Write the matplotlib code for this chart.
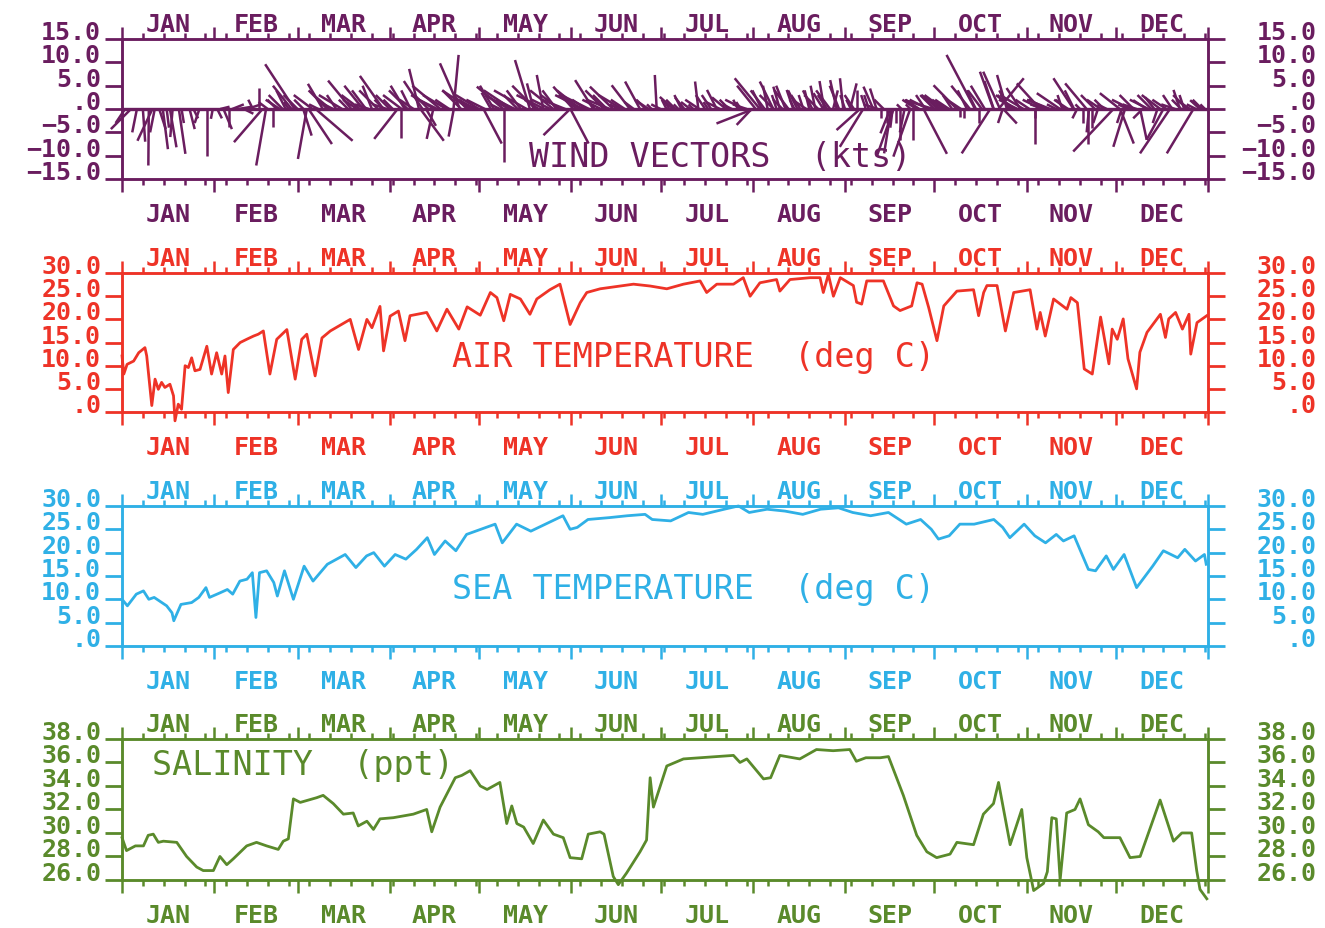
import matplotlib
matplotlib.use("Agg")
import matplotlib.pyplot as plt
from matplotlib.collections import LineCollection
import numpy as np

plt.rcParams['font.family'] = ['DejaVu Sans Mono', 'DejaVu Sans']

months = ["JAN", "FEB", "MAR", "APR", "MAY", "JUN", "JUL", "AUG", "SEP", "OCT", "NOV", "DEC"]
month_starts = [0, 31, 59, 90, 120, 151, 181, 212, 243, 273, 304, 334, 365]

# wind sticks: day of year, u (kts, east), v (kts, north)
wind_day = [3.0, 9.0, 10.2, 12.5, 13.7, 16.1, 19.1, 22.7, 28.7, 30.5, 34.1, 36.0, 37.0, 39.0, 41.0,
            46.0, 47.2, 48.4, 50.8, 52.0, 54.0, 56.0, 58.0, 60.9, 62.1, 62.7, 65.1, 67.5, 70.0,
            72.0, 77.1, 80.0, 82.0, 84.0, 87.8, 90.0, 92.6, 93.8, 96.0, 98.0, 99.8, 100.3, 102.2,
            104.6, 105.0,
            111.4, 111.5, 113.6, 116.0, 119.0, 121.5, 124.0, 128.2, 128.3, 133.0, 137.1, 138.3,
            141.6, 145.0, 147.0, 150.6, 150.7, 151.7, 155.0, 158.4, 162.0, 165.1, 168.0, 170.7,
            174.1, 177.0, 179.7, 183.0, 185.3, 188.0, 191.0, 193.7, 196.0, 199.9, 203.0, 205.0,
            208.0, 211.6, 212.2, 214.4, 216.0, 218.9, 221.1, 223.0, 225.6, 228.0, 231.0, 235.7,
            238.0, 240.2, 242.4, 244.7, 246.0, 248.0, 249.1, 250.0, 252.5, 253.6,
            256.0, 258.2, 258.5, 259.3, 261.5, 262.0, 264.9, 266.0, 268.0, 269.4, 272.7, 275.0,
            278.0, 280.6, 281.7, 284.0, 286.7, 289.0, 291.8, 292.9, 294.6, 295.1, 296.2, 297.4,
            300.0, 302.0, 306.9, 308.6, 311.0, 315.3, 317.0, 319.8, 322.0, 324.2, 324.8, 327.0,
            330.0, 333.2, 335.4, 335.5, 337.1, 340.0, 342.2, 344.4, 347.0, 350.0, 352.2, 355.6,
            358.0, 360.1, 362.3, 363.0]
wind_u = [-4.3, -0.1, -3.2, 1.4, 1.1, 1.4, 1.4, 1.1, 0.0, -0.4, 1.8, 0.0, 2.5, 3.0, 2.0,
          0.0, -6.1, -2.1, 0.0, -2.0, -3.0, -1.0, -6.3, 1.8, -1.9, 5.0, 7.9, -3.2, -3.0,
          -2.0, -5.0, -4.0, -3.0, -2.0, -5.0, -3.0, -5.0, 0.0, -4.0, -3.0, -2.1, 5.0, 2.1,
          -1.4, -5.0,
          1.1, -1.1, -4.3, -3.0, -4.0, 3.9, -2.0, -5.7, 0.0, -3.0, -3.2, -1.4,
          -1.4, -5.0, -4.0, -5.7, 3.9, -4.3, -6.0, -3.9, -4.0, -5.0, -5.0, -3.9,
          -3.2, -3.0, -0.4, -1.0, -2.9, -1.5, -2.0, -0.7, -2.0, -2.1, -3.0, -2.0,
          -1.0, -3.2, -7.9, -5.4, -3.0, -2.9, -1.4, -2.0, -1.4, -2.0, -1.0, -2.1,
          -3.0, -1.4, -0.7, 1.4, -2.0, -5.0, -5.0, -1.0, -2.1, -1.4,
          -2.0, -2.1, -1.5, -3.6, 0.0, -1.0, -3.6, 0.0, -3.0, 5.0, -6.1, -4.0,
          -3.0, -5.0, 0.0, -2.0, -6.1, -3.0, -6.1, -2.9, 5.4, -3.6, 2.9, -2.1,
          -4.0, -3.0, 0.0, -5.0, -4.0, -5.0, -2.0, -4.3, -1.0, -4.6, 0.0, -3.0,
          -2.0, -8.6, -4.3, 2.9, -2.5, -3.0, 1.4, -2.9, -2.0, -3.6, -6.4, -1.4,
          -3.0, -5.7, -2.1, -2.0]
wind_v = [-4.3, -12.1, -6.8, -4.3, -8.6, -8.2, -9.6, -4.3, -10.0, -2.1, -4.3, -3.8, 1.0, 0.5, -1.0,
          4.6, -7.1, -12.1, -3.9, 2.0, 3.0, 1.5, 9.6, -5.7, -10.7, -7.5, -6.8, 5.4, 2.5,
          3.0, 6.1, 3.0, 4.0, 5.0, 7.1, 3.0, -6.4, -6.1, 4.0, 2.0, 8.6, -6.8, -3.6,
          -6.4, 3.0,
          11.6, -5.9, 9.8, 3.0, 2.0, -7.4, 3.5, 4.8, -11.3, 3.0, 10.5, 5.5,
          7.3, 4.0, 3.0, -5.6, -7.4, 4.8, 3.0, 6.2, 4.0, 4.8, 3.0, 5.1,
          5.9, 2.0, 7.3, 2.0, 2.6, 3.0, 1.5, 5.9, 3.0, 4.1, 2.5, 1.0,
          1.5, -3.4, -3.1, 6.6, 4.0, 5.9, 4.8, 5.0, 4.1, 3.0, 4.0, 3.4,
          4.0, 6.2, 6.6, 5.5, 3.0, -4.5, -8.1, 3.0, 4.8, 4.4,
          2.0, -5.2, -9.5, -10.2, -6.6, 1.0, -10.2, -6.6, 2.0, -9.6, 1.9, 3.0,
          2.0, 5.1, -1.6, 4.0, 11.6, 4.0, -9.5, 8.0, 6.6, 8.0, -3.1, 7.3,
          3.0, 4.5, -7.4, 5.5, 2.0, 3.4, 2.0, 6.6, 1.0, 5.5, -7.4, 3.0,
          2.0, -9.1, 3.4, -7.4, -8.1, 3.0, -6.6, 1.9, 2.5, -6.6, -9.5, 4.1,
          3.0, -9.5, 1.9, 2.0]

# the many short sticks that crowd the zero line
calm_day = [1, 5, 7, 11, 15, 17, 20, 24, 26, 32,
            33, 42, 44, 49, 53, 55, 57, 59, 61, 64, 66, 69, 71, 74, 76, 79, 81, 83, 86, 88, 89,
            91, 94, 95, 97, 101, 103, 106, 107, 109, 110, 114, 117, 118, 120,
            122, 125, 127, 130, 131, 132, 134, 136, 139, 140, 142, 144, 146, 149,
            153, 154, 156, 157, 159, 161, 163, 164, 167, 169, 172, 176, 178, 181,
            184, 186, 187, 189, 192, 194, 197, 198, 201, 204, 207, 209, 210,
            213, 215, 217, 219, 220, 222, 224, 226, 227, 229, 230, 232, 233, 234, 236, 237, 239,
            241, 243,
            245, 247, 251, 254, 255, 257, 259, 260, 263, 265, 267, 270, 271, 273,
            274, 276, 277, 279, 282, 283, 285, 287, 288, 290, 293, 296, 298, 299, 301, 303,
            305, 307, 309, 310, 312, 314, 316, 318, 320, 321, 323, 325, 326, 328, 329, 331,
            336, 338, 339, 341, 343, 345, 346, 348, 349, 351, 353, 354, 356, 357, 359, 361, 364]
calm_u = [-2, -1, 0.5, -1, 0.5, -0.5, 0.5, 1, -1, 1,
          2, 3, -1, -2, -3, -2, -4, -3, -2, -4, -2, -4, -3, -5, -2, -3, -4, -3, -4, -2, -3,
          -2, -4, -3, -2, -4, -3, -4, -6, -5, -3, -4, -6, -3, -5,
          -4, -3, -2, -5, -6, -4, -3, -7, -5, -3, -6, -4, -3, -5,
          -4, -5, -3, -6, -2, -4, -3, -5, -2, -3, -2, -2, -1, -2,
          -1, -2, -1, -2, -1, -3, -1, -2, -3, -2, -1, -4, -3,
          -4, -2, -1, -3, -1, -2, -3, -1, -2, -1, -3, -2, -1, -3, -1, -2, 1,
          -2, -1,
          -1, 0, -1, -3, 0, 0, -0.5, 0, -1, -1, -3, -2, -4, -3,
          -2, -4, -3, -2, -3, 0, -4, -2, 0, -3, -2, -1, -2, -3, -4, -5,
          -3, 0, -4, -3, -5, -2, -1, -3, -2, -1, 0, -0.5, 0, -1, -3, -2,
          -1, -2, -4, -3, -2, -4, -3, -1, -4, -3, -2, -3, -2, -1, -3, -2, -1]
calm_v = [-3, -5, -7, -5, -4, -6, -3, -2, -3, -2,
          0.5, 1, 2, 1.5, 2, 4, 5, 3, 2, 3, 1, 4, 1.5, 3, 2, 2, 5, 1, 4, 2, 1,
          2, 3, 5, 4, 6, 3, 2, 5, 3, 2, 4, 4, 2, 3,
          2, 5, 1, 3, 4, 2, 4, 4, 5, 2, 3, 2, 4, 2,
          3, 4, 2, 3, 2, 2, 3, 2, 1, 2, 1.5, 2, 1, 1,
          1.5, 2, 1, 2.5, 1, 2, 1.5, 3, 1.5, 2, 2, 2, 1,
          5, 4, 5, 3, 3, 2, 4, 2, 4, 3, 2, 4, 5, 3, 6, 3, 4,
          5, 3,
          2, 4, 3, 1, -2, -3, -4, -3, -5, 1, 2, 3, 2, 3,
          2, 3, 2, 3, 2, -2, 5, 4, -3, 5, 6, -3, 4, 3, 2, 3,
          2, -2, 2, 1, 2, 1, 3, 2, 4, -2, -3, -5, -4, -3, 2, 1,
          -3, 1, 2, 1, -2, 2, 3, -3, 3, 2, 3, 1, 2, 3, 2, 1, 1]

air_day = [0, 0.6, 1.7, 3.9, 5.6, 7.7, 8.3, 10.0, 11.1, 12.2, 13.3, 14.4, 16.1, 17.3, 17.8, 18.9,
           20.0, 21.2, 22.3, 23.4, 24.5, 26.2, 28.5, 30.1, 31.8, 33.5, 34.6, 35.7, 37.4, 39.7,
           41.9, 44.2, 45.8, 47.5, 49.7, 52.0, 55.4, 58.2, 60.4, 62.1, 64.9, 67.2, 70.0, 76.7,
           79.5, 82.3, 84.0, 86.7, 87.9, 90.1, 92.9,
           95.1, 96.8, 102.4, 105.8, 109.2, 113.2, 116.0, 120.4, 123.8, 126.0, 128.3, 130.5,
           133.9, 137.1, 139.4, 143.8, 147.2, 150.6, 154.0, 156.2, 160.7, 171.9, 177.5, 183.1,
           188.7, 194.3, 196.5, 199.9, 205.5, 208.8, 211.1, 214.4, 220.0, 221.1, 224.5, 231.3,
           234.6, 235.7, 237.4, 239.1, 241.4,
           245.8, 246.9, 248.6, 250.3, 255.9, 259.3, 261.5, 265.4, 267.2, 268.9, 271.1, 273.9,
           276.2, 280.6, 286.2, 287.9, 289.6, 290.7, 294.1, 296.9, 299.7, 305.2, 307.5, 308.6,
           310.3, 313.1, 317.6, 318.9, 321.1, 323.4, 326.1, 328.9, 331.7, 332.8, 334.5, 336.5,
           338.1, 341.0, 342.1, 344.5, 349.0, 350.7, 351.8, 354.1, 356.4, 358.6, 359.2, 361.3,
           364.6]
air_temp = [12.1, 8.2, 10.3, 11.0, 12.8, 13.9, 12.1, 1.4, 7.1, 4.9, 6.4, 5.3, 6.0, 3.5, -1.9, 1.7,
            0.6, 10.0, 9.6, 11.7, 8.9, 9.2, 14.2, 8.2, 12.8, 8.2, 12.1, 4.2, 13.5, 15.0,
            15.7, 16.4, 16.8, 17.5, 8.2, 15.7, 17.8, 7.1, 15.7, 16.8, 7.8, 16.0, 17.5, 20.0,
            13.5, 20.0, 18.2, 22.8, 13.2, 20.7, 21.8,
            15.4, 20.8, 21.5, 17.5, 22.2, 17.9, 22.7, 20.9, 25.8, 24.7, 19.7, 25.4,
            24.4, 21.1, 24.4, 26.4, 27.6, 18.9, 23.6, 25.8, 26.6, 27.6, 27.2, 26.6,
            27.6, 28.3, 25.8, 27.6, 27.6, 29.0, 25.0, 27.9, 28.6, 26.1, 28.6, 29.0,
            29.0, 25.8, 29.7, 25.0, 29.0,
            27.3, 23.7, 23.3, 28.3, 28.3, 22.9, 21.9, 22.9, 27.9, 27.6, 22.6, 15.4,
            22.9, 26.1, 26.4, 20.8, 25.8, 27.3, 27.3, 17.5, 25.8, 26.4, 17.9, 21.5,
            16.4, 24.4, 22.2, 24.7, 23.6, 9.3, 8.2, 20.5, 10.4, 17.9, 15.7, 20.1,
            11.5, 5.0, 12.9, 17.2, 21.1, 16.1, 20.1, 21.5, 17.9, 21.1, 12.5, 19.3,
            20.8]

sea_day = [0, 1.8, 4.8, 7.2, 9.0, 10.8, 15.0, 16.8, 17.4, 19.8, 23.4, 25.8, 28.2, 29.4, 33.0,
           35.4, 37.2, 39.6, 42.0, 43.8, 45.0, 46.2, 48.6, 51.0, 52.2, 54.6, 57.6, 61.2, 64.2,
           69.0, 75.0, 78.6, 82.2, 84.6, 88.2, 91.8, 95.4, 99.0, 102.6, 105.0, 108.6, 112.2,
           115.8, 120.6, 125.4, 127.8, 132.6, 137.4, 144.6, 148.2, 150.6, 153.0, 156.6, 163.8,
           169.8, 175.8, 178.2,
           184.4, 190.4, 195.2, 202.4, 207.2, 210.8, 216.8, 222.8, 228.8, 234.8, 240.8, 245.6,
           251.6, 257.6, 263.6, 268.4, 272.0, 274.4, 278.0, 281.6, 286.4, 293.0, 296.0, 298.4,
           303.2, 306.8, 310.4, 314.0, 316.4, 320.0, 324.8, 327.2, 330.8, 333.2, 336.8, 341.0,
           346.4, 350.0, 354.8, 357.2, 360.8, 363.8, 364.4]
sea_temp = [10.0, 8.6, 11.1, 11.8, 10.0, 10.4, 8.6, 7.1, 5.4, 8.9, 9.3, 10.4, 12.5, 10.4, 11.4,
            12.1, 11.1, 13.9, 14.3, 15.7, 6.1, 15.7, 16.1, 13.6, 10.7, 16.1, 10.0, 17.1, 13.9,
            17.5, 19.6, 16.8, 19.3, 20.0, 17.1, 19.6, 18.6, 20.7, 23.2, 19.6, 22.5, 20.4,
            23.9, 25.0, 26.1, 22.1, 26.1, 24.6, 26.8, 27.9, 25.0, 25.4, 27.1, 27.5,
            27.9, 28.2, 27.1,
            26.8, 28.6, 28.2, 29.3, 30.0, 28.6, 29.3, 28.9, 28.2, 29.3, 29.6, 28.6,
            27.9, 28.6, 26.1, 27.1, 25.0, 22.9, 23.6, 26.1, 26.1, 27.1, 25.4, 23.2,
            26.1, 23.6, 22.1, 23.9, 22.5, 23.6, 16.4, 16.1, 19.3, 16.4, 19.6, 12.5,
            17.1, 20.4, 18.9, 20.7, 18.2, 19.6, 17.5]

sal_day = [0, 1.5, 4.5, 7.2, 8.8, 10.5, 12.2, 13.9, 18.4, 21.7, 25.1, 27.3, 30.7, 32.9, 35.2,
           37.4, 41.9, 45.2, 48.6, 52.5, 54.2, 55.9, 57.6, 59.9, 65.4, 67.6, 71.0, 74.4, 77.7,
           79.4, 82.3, 84.5, 86.7, 91.2, 97.9, 102.4, 104.1, 106.9, 112.0, 114.2, 117.0,
           120.4, 122.7, 127.0, 129.3, 131.0, 132.7, 135.0, 138.2, 141.6, 145.0, 148.3,
           150.6, 154.5, 156.7, 160.7, 162.0, 165.1, 166.8, 169.6, 174.1, 176.3, 177.5,
           178.6, 183.1, 188.7, 194.3, 205.5, 207.7, 210.0, 215.6, 218.0, 221.1, 227.8,
           233.4, 239.0, 244.6, 246.8, 250.0, 254.8, 257.6, 262.6, 267.1, 270.5, 273.8,
           278.3, 280.6, 286.2, 289.5, 292.9, 294.6, 298.5, 302.4, 304.1, 306.4, 309.7,
           311.0, 312.5, 314.0, 315.3, 317.5, 320.3, 322.0, 324.8, 328.1, 330.0, 335.4,
           338.8, 342.2, 348.9, 353.4, 356.2, 359.5, 361.2, 362.3, 364.6]
salinity = [29.6, 28.5, 28.9, 28.9, 29.8, 29.9, 29.2, 29.3, 29.2, 28.0, 27.1, 26.8, 26.8, 28.0, 27.3,
            27.8, 28.9, 29.2, 28.9, 28.6, 29.3, 29.5, 32.9, 32.6, 33.0, 33.2, 32.5, 31.6, 31.7,
            30.6, 31.0, 30.3, 31.2, 31.3, 31.6, 32.0, 30.1, 32.2, 34.7, 34.9, 35.3,
            34.0, 33.7, 34.3, 30.8, 32.3, 30.8, 30.5, 29.1, 31.1, 29.9, 29.6,
            27.9, 27.8, 29.9, 30.1, 29.9, 26.3, 25.6, 26.6, 28.4, 29.4, 34.7,
            32.2, 35.7, 36.3, 36.4, 36.6, 36.0, 36.3, 34.6, 34.7, 36.6, 36.3,
            37.1, 37.0, 37.1, 36.1, 36.4, 36.4, 36.5, 33.2, 29.8, 28.4, 27.9,
            28.2, 29.2, 29.0, 31.6, 32.5, 34.3, 29.0, 32.0, 27.9, 25.1, 25.7,
            26.7, 31.3, 31.2, 26.0, 31.7, 32.0, 32.9, 30.7, 30.1, 29.6, 29.6,
            27.9, 28.0, 32.8, 29.3, 30.0, 30.0, 26.8, 25.2, 24.4]

PURPLE = '#6a1d5f'
RED = '#ee3327'
BLUE = '#2fb0e6'
GREEN = '#5a8a2b'

KTS_TO_DAYS = 1.57  # keeps stick angles true on the time axis
LBL = 18


def panel(rect, color, ylim, yticks, ylabels):
    ax = fig.add_axes(rect)
    ax.set_xlim(0, 365)
    ax.set_ylim(*ylim)
    for s in ax.spines.values():
        s.set_color(color)
        s.set_linewidth(1.8)
    ax.set_xticks(month_starts)
    ax.set_xticks(np.arange(0, 366, 7), minor=True)
    ax.tick_params(axis='x', which='both', top=True, bottom=True, labelbottom=False,
                   direction='out', color=color, width=1.8)
    ax.tick_params(axis='x', which='major', length=9)
    ax.tick_params(axis='x', which='minor', length=4)
    ax.set_yticks(yticks, ylabels)
    ax.tick_params(axis='y', direction='out', length=12, width=2, color=color,
                   labelcolor=color, labelsize=LBL, pad=3)
    plt.setp(ax.get_yticklabels(), va='baseline', fontweight='bold')

    tw = ax.twinx()
    tw.set_ylim(*ylim)
    tw.set_yticks(yticks, ylabels)
    tw.tick_params(axis='y', direction='out', length=12, width=2, color=color,
                   labelcolor=color, labelsize=LBL, pad=66)
    plt.setp(tw.get_yticklabels(), va='baseline', ha='right', fontweight='bold')
    for s in tw.spines.values():
        s.set_color(color)
        s.set_linewidth(1.8)

    for i, m in enumerate(months):
        mid = (month_starts[i] + month_starts[i + 1]) / 2
        ax.annotate(m, xy=(mid, 1), xycoords=('data', 'axes fraction'), xytext=(0, 6),
                    textcoords='offset points', ha='center', va='baseline', color=color,
                    fontsize=LBL, fontweight='bold', annotation_clip=False)
        ax.annotate(m, xy=(mid, 0), xycoords=('data', 'axes fraction'), xytext=(0, -30),
                    textcoords='offset points', ha='center', va='baseline', color=color,
                    fontsize=LBL, fontweight='bold', annotation_clip=False)
    return ax


fig = plt.figure(figsize=(13.25, 9.29), dpi=100)

# wind vectors
ax1 = panel([0.0921, 0.8062, 0.8196, 0.1507], PURPLE, (-15, 15),
            [15, 10, 5, 0, -5, -10, -15],
            ['15.0', '10.0', '5.0', '.0', '\u22125.0', '\u221210.0', '\u221215.0'])
segs = [[(d, 0), (d + u * KTS_TO_DAYS, v)] for d, u, v in zip(wind_day, wind_u, wind_v)]
segs += [[(d, 0), (d + u * KTS_TO_DAYS, v)] for d, u, v in zip(calm_day, calm_u, calm_v)]
ax1.add_collection(LineCollection(segs, colors=PURPLE, linewidths=1.8, clip_on=False))
ax1.axhline(0, color=PURPLE, lw=2.4)
ax1.text(0.551, 0.164, 'WIND VECTORS  (kts)', transform=ax1.transAxes, ha='center',
         va='center', color=PURPLE, fontsize=24)

# air temperature
temp_ticks = [0, 5, 10, 15, 20, 25, 30]
temp_labels = ['.0', '5.0', '10.0', '15.0', '20.0', '25.0', '30.0']
ax2 = panel([0.0921, 0.5554, 0.8196, 0.1496], RED, (0, 30), temp_ticks, temp_labels)
ax2.plot(air_day, air_temp, color=RED, lw=2.0, clip_on=False)
ax2.text(0.526, 0.403, 'AIR TEMPERATURE  (deg C)', transform=ax2.transAxes, ha='center',
         va='center', color=RED, fontsize=24)

# sea temperature
ax3 = panel([0.0921, 0.3036, 0.8196, 0.1507], BLUE, (0, 30), temp_ticks, temp_labels)
ax3.plot(sea_day, sea_temp, color=BLUE, lw=2.0, clip_on=False)
ax3.text(0.526, 0.407, 'SEA TEMPERATURE  (deg C)', transform=ax3.transAxes, ha='center',
         va='center', color=BLUE, fontsize=24)

# salinity
sal_ticks = [26, 28, 30, 32, 34, 36, 38]
ax4 = panel([0.0921, 0.0517, 0.8196, 0.1518], GREEN, (26, 38), sal_ticks,
            ['%.1f' % t for t in sal_ticks])
ax4.plot(sal_day, salinity, color=GREEN, lw=2.0, clip_on=False)
ax4.text(0.028, 0.816, 'SALINITY  (ppt)', transform=ax4.transAxes, ha='left',
         va='center', color=GREEN, fontsize=24)

fig.savefig('out.png', dpi=100)
